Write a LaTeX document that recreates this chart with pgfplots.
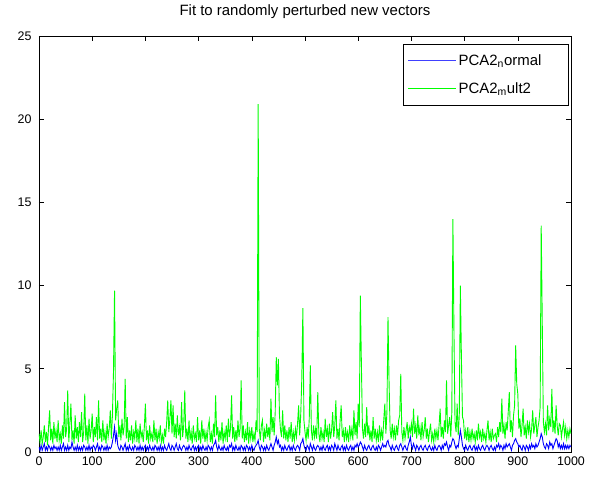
\documentclass[border=0pt]{standalone}
\usepackage{fontspec}
\setmainfont{Liberation Sans}
\usepackage{pgfplots}
\usepackage{pgfplotstable}
\pgfplotsset{compat=1.18}
\definecolor{mgreen}{rgb}{0,1,0}
\definecolor{mblue}{rgb}{0,0,1}
\pgfplotstableread{
x b g
0 0.3 1.1
2 0.1 0.6
4 0.4 1.3
6 0.1 0.5
8 0.3 0.9
10 0.5 1.6
12 0.1 0.6
14 0.3 1.2
16 0.1 0.4
18 0.4 1.5
20 0.3 2.5
22 0.1 0.7
24 0.3 1.4
26 0.1 0.5
28 0.4 1.8
30 0.2 0.8
32 0.3 1.3
34 0.1 0.6
36 0.3 1.9
38 0.1 0.7
40 0.4 1.1
42 0.1 0.5
44 0.3 1.6
46 0.5 0.8
48 0.1 3.0
50 0.3 0.9
52 0.1 1.4
54 0.4 3.7
56 0.1 0.6
58 0.3 1.7
60 0.2 2.9
62 0.6 0.7
64 0.3 1.3
66 0.1 0.5
68 0.3 2.2
70 0.1 0.8
72 0.4 1.5
74 0.1 0.6
76 0.3 1.8
78 0.1 0.9
80 0.3 2.4
82 0.1 0.6
84 0.4 1.2
86 0.3 3.5
88 0.1 0.7
90 0.3 1.6
92 0.1 0.5
94 0.4 2.0
96 0.1 0.8
98 0.3 1.3
100 0.2 2.3
102 0.4 0.6
104 0.3 1.5
106 0.1 0.9
108 0.3 2.1
110 0.5 0.7
112 0.1 3.1
114 0.3 0.8
116 0.1 1.4
118 0.4 0.6
120 0.3 1.9
122 0.1 0.7
124 0.3 1.2
126 0.1 0.5
128 0.4 1.7
130 0.1 0.9
132 0.3 1.4
134 0.2 2.5
136 0.3 0.8
138 0.6 2.2
140 1.0 4.8
142 1.5 9.7
144 0.7 1.9
146 1.1 2.6
148 0.4 3.1
150 0.2 0.9
152 0.1 1.6
154 0.4 0.7
156 0.3 2.0
158 0.1 1.0
160 0.3 1.5
162 0.5 4.4
164 0.1 0.8
166 0.3 2.1
168 0.1 0.6
170 0.4 1.3
172 0.2 0.7
174 0.1 1.6
176 0.3 0.5
178 0.1 1.2
180 0.4 0.8
182 0.3 1.9
184 0.1 0.6
186 0.3 1.4
188 0.1 0.5
190 0.4 1.7
192 0.1 0.9
194 0.3 1.2
196 0.1 0.6
198 0.3 1.5
200 0.4 2.9
202 0.1 0.7
204 0.3 1.3
206 0.1 0.5
208 0.4 1.6
210 0.2 0.8
212 0.1 1.1
214 0.3 0.6
216 0.1 1.9
218 0.4 0.7
220 0.3 1.4
222 0.1 0.5
224 0.3 1.2
226 0.1 0.8
228 0.4 1.6
230 0.1 0.6
232 0.3 1.0
234 0.1 0.5
236 0.4 1.4
238 0.2 0.9
240 0.1 1.8
242 0.3 3.1
244 0.5 1.2
246 0.2 2.0
248 0.1 3.1
250 0.4 1.1
252 0.3 2.8
254 0.1 0.9
256 0.3 1.7
258 0.5 0.8
260 0.2 2.2
262 0.1 1.0
264 0.4 1.5
266 0.2 0.7
268 0.1 3.0
270 0.3 0.9
272 0.4 1.6
274 0.3 3.7
276 0.1 0.8
278 0.3 1.4
280 0.1 0.6
282 0.4 1.9
284 0.2 0.7
286 0.1 1.2
288 0.3 0.5
290 0.4 1.6
292 0.1 0.8
294 0.3 1.1
296 0.1 0.6
298 0.3 2.1
300 0.4 0.7
302 0.1 1.3
304 0.3 0.5
306 0.1 1.9
308 0.4 0.8
310 0.2 1.4
312 0.1 0.6
314 0.3 1.2
316 0.1 0.7
318 0.4 1.5
320 0.3 1.9
322 0.1 0.6
324 0.3 1.1
326 0.1 0.5
328 0.4 1.7
330 0.5 0.9
332 0.7 3.4
334 0.3 1.0
336 0.1 1.5
338 0.4 0.6
340 0.2 1.3
342 0.1 0.7
344 0.3 1.8
346 0.1 0.5
348 0.4 1.2
350 0.2 0.8
352 0.1 1.6
354 0.3 0.6
356 0.1 2.0
358 0.4 0.9
360 0.3 1.4
362 0.5 3.4
364 0.1 0.8
366 0.3 1.5
368 0.1 0.6
370 0.4 1.3
372 0.2 0.7
374 0.1 1.9
376 0.3 0.9
378 0.1 1.4
380 0.4 4.3
382 0.3 0.8
384 0.1 1.6
386 0.3 0.6
388 0.1 1.2
390 0.4 0.7
392 0.3 1.8
394 0.1 0.5
396 0.3 1.3
398 0.1 0.8
400 0.4 1.5
402 0.2 0.6
404 0.1 1.1
406 0.3 0.7
408 0.4 1.9
410 0.5 1.2
412 0.7 20.9
414 0.3 1.4
416 0.1 0.7
418 0.4 1.6
420 0.3 1.9
422 0.1 0.6
424 0.3 1.3
426 0.1 0.8
428 0.4 1.7
430 0.2 0.9
432 0.1 1.5
434 0.3 0.7
436 0.5 3.2
438 0.3 1.2
440 0.1 2.1
442 0.4 1.0
444 0.6 2.4
446 0.9 5.7
448 0.5 4.0
450 0.7 5.6
452 0.3 2.2
454 0.4 1.3
456 0.1 0.9
458 0.3 2.5
460 0.1 0.8
462 0.4 1.6
464 0.2 0.7
466 0.1 1.3
468 0.3 0.6
470 0.4 1.5
472 0.1 0.8
474 0.3 1.8
476 0.1 0.6
478 0.4 1.2
480 0.2 0.7
482 0.1 1.4
484 0.3 0.9
486 0.4 1.7
488 0.3 2.8
490 0.1 1.0
492 0.5 2.3
494 0.6 4.4
496 0.8 8.65
498 0.4 1.9
500 0.2 1.2
502 0.1 0.7
504 0.4 1.5
506 0.3 0.8
508 0.1 2.0
510 0.5 5.2
512 0.3 1.3
514 0.1 0.7
516 0.4 1.6
518 0.2 0.9
520 0.1 1.4
522 0.3 0.8
524 0.4 3.6
526 0.3 1.1
528 0.1 0.6
530 0.3 1.5
532 0.1 0.8
534 0.4 1.2
536 0.2 0.6
538 0.1 2.0
540 0.3 0.9
542 0.4 1.4
544 0.1 0.6
546 0.3 1.7
548 0.1 0.8
550 0.4 1.3
552 0.3 2.4
554 0.1 0.9
556 0.5 1.6
558 0.3 3.1
560 0.1 0.8
562 0.4 1.4
564 0.2 0.7
566 0.1 1.9
568 0.3 2.8
570 0.4 0.9
572 0.1 1.3
574 0.3 0.6
576 0.1 1.5
578 0.4 0.8
580 0.2 1.2
582 0.1 0.6
584 0.3 1.6
586 0.4 0.9
588 0.1 1.4
590 0.3 0.7
592 0.1 2.5
594 0.4 1.0
596 0.3 1.8
598 0.5 0.8
600 0.3 2.9
602 0.4 1.5
604 0.6 9.4
606 0.5 5.3
608 0.3 1.4
610 0.1 0.8
612 0.4 1.7
614 0.2 0.9
616 0.1 2.7
618 0.3 1.0
620 0.4 1.6
622 0.2 0.7
624 0.1 1.3
626 0.3 0.6
628 0.4 2.1
630 0.2 0.8
632 0.1 1.4
634 0.3 0.7
636 0.1 1.2
638 0.4 0.6
640 0.3 1.6
642 0.1 0.8
644 0.3 1.3
646 0.5 0.7
648 0.3 1.9
650 0.4 2.9
652 0.3 1.1
654 0.6 2.4
656 0.7 8.1
658 0.4 4.2
660 0.3 1.3
662 0.1 0.8
664 0.4 1.7
666 0.2 0.9
668 0.1 1.4
670 0.3 0.7
672 0.4 1.6
674 0.2 1.0
676 0.1 1.9
678 0.4 2.2
680 0.5 4.7
682 0.3 1.2
684 0.1 0.7
686 0.3 1.5
688 0.4 0.8
690 0.2 1.3
692 0.1 1.8
694 0.4 0.8
696 0.6 1.5
698 0.9 1.2
700 0.4 1.7
702 0.2 0.9
704 0.5 2.6
706 0.3 1.1
708 0.1 1.6
710 0.4 0.8
712 0.3 2.2
714 0.1 1.0
716 0.3 1.5
718 0.4 0.7
720 0.2 1.8
722 0.1 0.9
724 0.3 1.3
726 0.4 2.1
728 0.2 0.8
730 0.1 1.4
732 0.3 0.6
734 0.4 1.2
736 0.2 1.7
738 0.1 0.7
740 0.3 1.1
742 0.1 0.6
744 0.4 1.4
746 0.2 0.8
748 0.1 1.3
750 0.3 0.7
752 0.4 1.6
754 0.3 2.6
756 0.1 0.9
758 0.4 1.5
760 0.2 0.8
762 0.5 1.9
764 0.4 1.2
766 0.6 4.3
768 0.3 1.1
770 0.1 1.6
772 0.4 2.1
774 0.3 0.9
776 0.6 2.4
778 0.8 14.0
780 0.7 7.2
782 0.4 1.8
784 0.2 1.2
786 0.4 2.9
788 0.3 1.0
790 0.8 2.2
792 1.3 10.0
794 0.9 5.7
796 0.4 2.1
798 0.2 1.9
800 0.1 0.8
802 0.4 1.3
804 0.2 0.7
806 0.1 1.5
808 0.3 0.6
810 0.4 1.2
812 0.2 0.7
814 0.1 1.4
816 0.3 0.8
818 0.4 1.1
820 0.1 0.6
822 0.3 1.3
824 0.1 0.7
826 0.4 1.7
828 0.2 0.9
830 0.1 1.2
832 0.3 0.6
834 0.4 1.4
836 0.2 0.8
838 0.1 1.1
840 0.3 0.6
842 0.4 1.3
844 0.3 1.9
846 0.1 0.7
848 0.3 1.2
850 0.4 0.6
852 0.2 1.4
854 0.1 0.8
856 0.3 1.0
858 0.1 1.1
860 0.4 0.6
862 0.3 1.5
864 0.5 0.9
866 0.2 1.8
868 0.4 1.2
870 0.3 3.2
872 0.1 1.1
874 0.4 1.6
876 0.2 0.8
878 0.5 1.8
880 0.3 1.3
882 0.4 2.4
884 0.5 3.6
886 0.3 1.2
888 0.1 1.9
890 0.4 0.9
892 0.5 2.2
894 0.7 2.8
896 0.8 6.4
898 0.6 4.1
900 0.5 3.5
902 0.3 1.4
904 0.4 2.0
906 0.2 0.9
908 0.1 1.6
910 0.4 2.6
912 0.3 1.0
914 0.1 1.5
916 0.4 0.8
918 0.3 1.9
920 0.1 1.2
922 0.4 1.7
924 0.2 0.9
926 0.5 1.4
928 0.3 2.5
930 0.4 1.1
932 0.2 1.6
934 0.5 2.1
936 0.3 0.9
938 0.4 1.5
940 0.6 1.9
942 0.8 2.7
944 1.1 13.6
946 0.9 7.7
948 0.5 1.8
950 0.3 1.2
952 0.2 1.7
954 0.5 1.0
956 0.4 2.8
958 0.2 1.3
960 0.6 2.0
962 0.4 1.5
964 0.5 3.8
966 0.2 1.2
968 0.4 1.9
970 0.6 1.1
972 0.8 2.8
974 0.7 1.6
976 0.3 1.0
978 0.5 1.7
980 0.2 1.6
982 0.4 0.9
984 0.2 1.4
986 0.5 1.8
988 0.2 1.0
990 0.4 1.5
992 0.2 0.8
994 0.4 1.3
996 0.2 0.9
998 0.4 1.4
1000 0.3 1.1
}\datatable
\begin{document}
\begin{tikzpicture}
\useasboundingbox (0,0) rectangle (597bp,478bp);
\begin{axis}[
  at={(39bp,26bp)}, anchor=south west,
  scale only axis, width=532bp, height=416bp,
  xmin=0, xmax=1000, ymin=0, ymax=25,
  xtick={0,100,...,1000}, ytick={0,5,...,25},
  tick align=inside, major tick length=5bp,
  tick style={black, line width=0.6bp},
  axis line style={black, line width=0.6bp},
  /pgf/number format/assume math mode=true,
  /pgf/number format/1000 sep={},
  tick label style={font=\fontsize{12.5}{14}\selectfont},
  xticklabel style={yshift=-1bp},
  yticklabel style={xshift=-4bp},
  title={Fit to randomly perturbed new vectors},
  title style={font=\fontsize{15}{17}\selectfont, at={(0.5,1)}, anchor=base, yshift=15bp},
  legend style={fill=white, line width=0.6bp, font=\fontsize{15}{17}\selectfont,
    at={(0.9962,0.9808)}, anchor=north east, inner xsep=4bp, inner ysep=8bp,
    row sep=12bp},
  legend cell align=left,
  reverse legend,
]
\addplot[mgreen, line width=0.9bp,
  legend image code/.code={\draw[draw=mgreen, line width=1.2bp] (0bp,0bp) -- (48bp,0bp);}]
  table[x=x, y=g] {\datatable};
\addlegendentry{\makebox[104bp][l]{PCA2\textsubscript{m}ult2}}
\addplot[mblue, line width=0.9bp,
  legend image code/.code={\draw[draw=mblue!75!white, line width=1.2bp] (0bp,0bp) -- (48bp,0bp);}]
  table[x=x, y=b] {\datatable};
\addlegendentry{\makebox[104bp][l]{PCA2\textsubscript{n}ormal}}
\end{axis}
\end{tikzpicture}
\end{document}
